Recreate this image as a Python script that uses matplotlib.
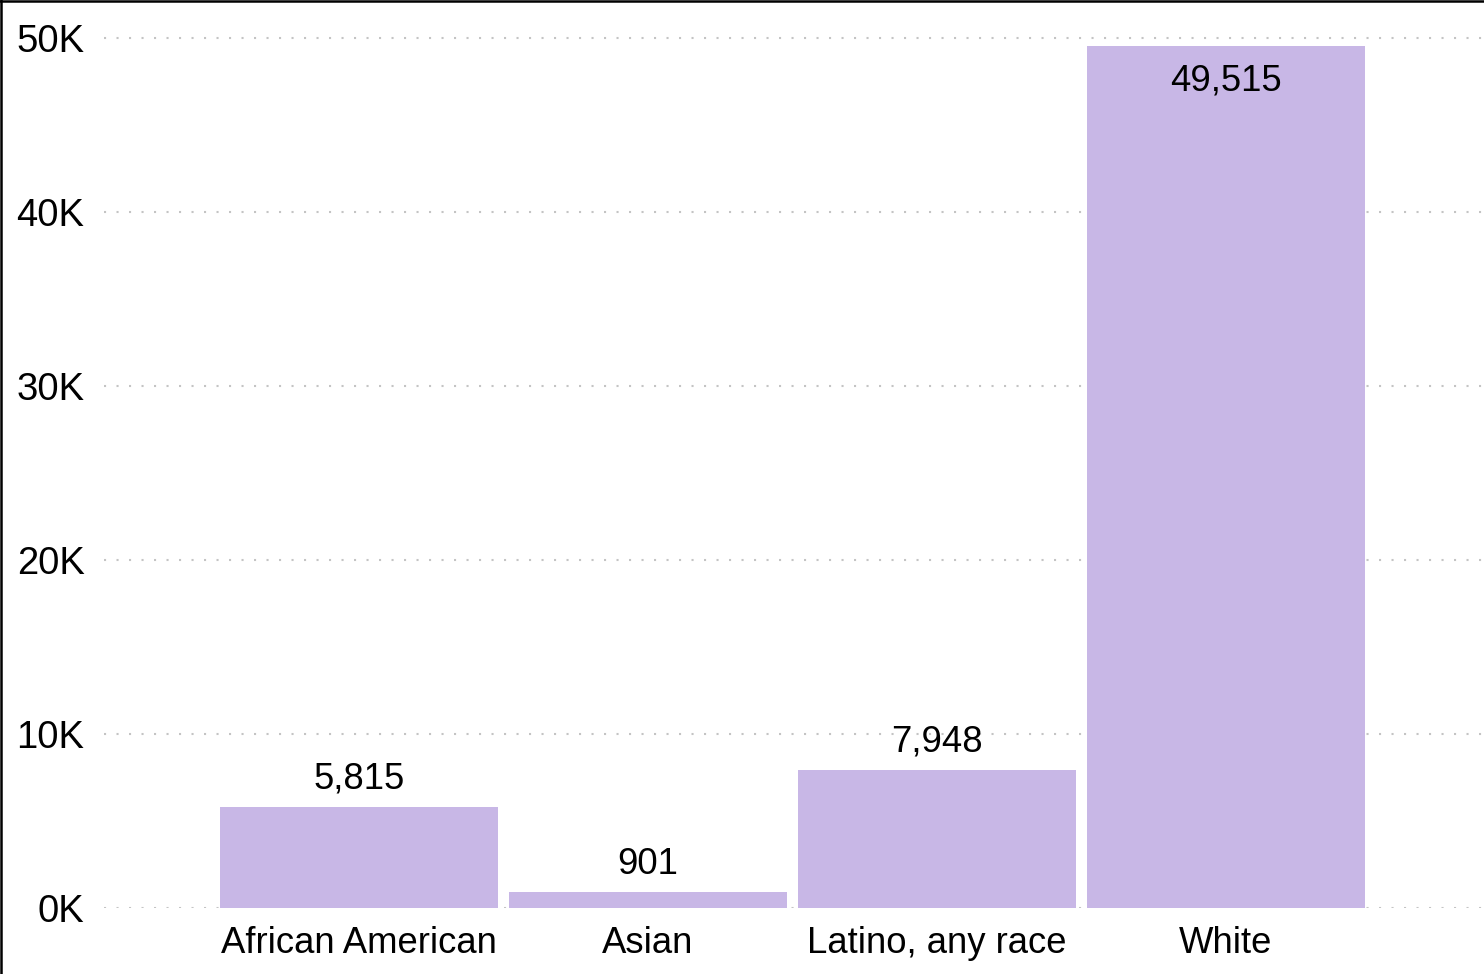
import matplotlib
matplotlib.use("Agg")
import matplotlib.pyplot as plt
from matplotlib.lines import Line2D
from matplotlib.ticker import FuncFormatter

categories = ["African American", "Asian", "Latino, any race", "White"]
values = [5815, 901, 7948, 49515]
yticks = [0, 10000, 20000, 30000, 40000, 50000]

W, H = 1484, 974
fig = plt.figure(figsize=(W / 100, H / 100), dpi=100)
plt.rcParams['font.family'] = ['Liberation Sans', 'DejaVu Sans']

left, right, bottom, top = 104, 1484, 908, 2
ax = fig.add_axes([left / W, (H - bottom) / H, (right - left) / W, (bottom - top) / H])

bar_color = "#C8B7E6"
x = list(range(len(categories)))
bars = ax.bar(x, values, width=0.962, color=bar_color, zorder=2)

ax.set_xlim(-0.882, 3.893)
ax.set_ylim(0, 52070)
ax.set_yticks(yticks)
ax.yaxis.set_major_formatter(FuncFormatter(lambda v, p: f"{int(v/1000)}K"))
ax.set_xticks(x)
ax.set_xticklabels(categories)

ax.grid(axis="y", linestyle=(0, (1, 5)), color="#c4c4c4", linewidth=1.5, zorder=0)
ax.set_axisbelow(True)
for s in ax.spines.values():
    s.set_visible(False)
ax.tick_params(axis="x", length=0, labelsize=26.3, colors="black", pad=13)
ax.tick_params(axis="y", length=0, labelsize=27.5, colors="black", pad=14)

ymax = ax.get_ylim()[1]
for xi, v in zip(x, values):
    label = f"{v:,}"
    if v > ymax * 0.9:
        ax.annotate(label, (xi, v), xytext=(0, -25), textcoords="offset points",
                    ha="center", va="center", fontsize=26.3, color="black", zorder=3)
    else:
        ax.annotate(label, (xi, v), xytext=(0, 20), textcoords="offset points",
                    ha="center", va="center", fontsize=26.3, color="black", zorder=3)

# figure border (top and left)
fig.add_artist(Line2D([0, 1], [1 - 1 / H, 1 - 1 / H], transform=fig.transFigure, color="black", lw=1.8))
fig.add_artist(Line2D([1 / W, 1 / W], [0, 1], transform=fig.transFigure, color="black", lw=1.8))

fig.savefig("out.png", dpi=100)
